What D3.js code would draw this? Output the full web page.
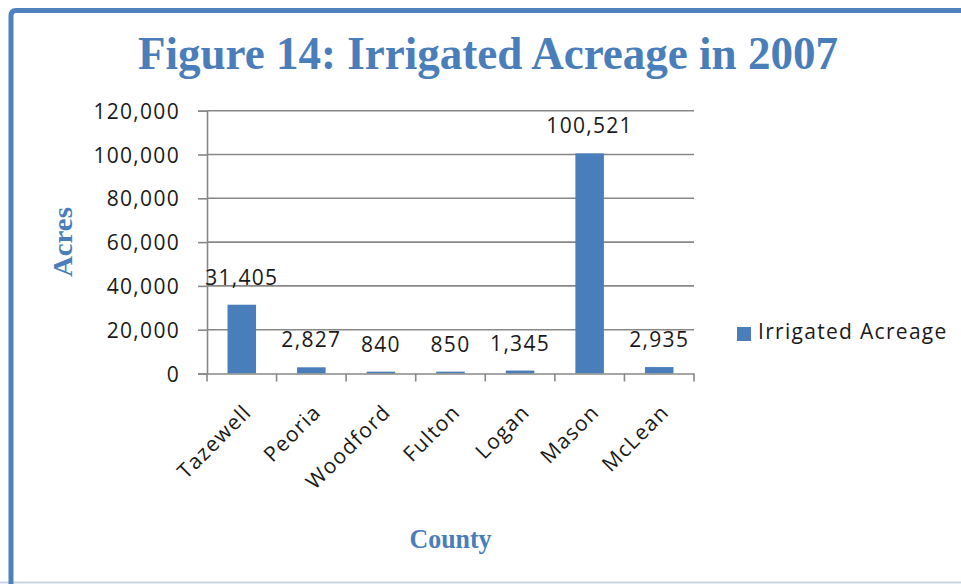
<!DOCTYPE html>
<html>
<head>
<meta charset="utf-8">
<script src="https://cdn.jsdelivr.net/npm/d3@7"></script>
<style>
  html, body { margin: 0; padding: 0; background: #fff; }
  svg { display: block; }
</style>
</head>
<body>
<script>
const counties = ["Tazewell", "Peoria", "Woodford", "Fulton", "Logan", "Mason", "McLean"];
const irrigatedAcreage = [31405, 2827, 840, 850, 1345, 100521, 2935];
const yTicks = [0, 20000, 40000, 60000, 80000, 100000, 120000];
const seriesName = "Irrigated Acreage";
const titleText = "Figure 14: Irrigated Acreage in 2007";
const xTitle = "County";
const yTitle = "Acres";

const W = 961, H = 584;
const blue = "#4a7ebb";
const barColor = "#4a7ebb";
const gridColor = "#888888";
const sansFont = "'Open Sans', sans-serif";
const serifFont = "'Liberation Serif', 'DejaVu Serif', serif";

const svg = d3.select("body").append("svg").attr("width", W).attr("height", H);

// frame
svg.append("rect").attr("x", 0).attr("y", 0).attr("width", W).attr("height", H).attr("fill", "#fff");
svg.append("line").attr("x1", 0).attr("x2", W).attr("y1", 582.5).attr("y2", 582.5)
  .attr("stroke", "#c9d5e2").attr("stroke-width", 2);
svg.append("path")
  .attr("d", `M11,${H + 5} L11,16 Q11,10.5 16,10.5 L${W + 5},10.5`)
  .attr("fill", "none").attr("stroke", "#4f81bd").attr("stroke-width", 5);

const plot = { left: 207, right: 694, top: 110.7, bottom: 373.5 };

const x = d3.scaleBand().domain(counties).range([plot.left, plot.right])
  .paddingInner(0.59).paddingOuter(0.295);
const xGrid = d3.scaleBand().domain(counties).range([plot.left, plot.right]).padding(0);
const y = d3.scaleLinear().domain([0, 120000]).range([plot.bottom, plot.top]);

// gridlines
svg.append("g").selectAll("line").data(yTicks.filter(d => d > 0)).join("line")
  .attr("x1", plot.left).attr("x2", plot.right)
  .attr("y1", d => y(d)).attr("y2", d => y(d))
  .attr("stroke", gridColor).attr("stroke-width", 1.6);

// y axis
const yAxis = svg.append("g").attr("transform", `translate(${plot.left},0)`)
  .call(d3.axisLeft(y).tickValues(yTicks).tickFormat(d3.format(",")).tickSize(9).tickPadding(18));
yAxis.select(".domain").attr("stroke", gridColor).attr("stroke-width", 1.6);
yAxis.selectAll(".tick line").attr("stroke", gridColor).attr("stroke-width", 1.6);
yAxis.selectAll(".tick text").attr("font-family", sansFont).attr("font-size", 21)
  .attr("letter-spacing", "1.3px").attr("fill", "#1a1a1a").attr("dy", "0.36em");

// bars
svg.append("g").selectAll("rect").data(counties).join("rect")
  .attr("x", d => x(d)).attr("width", x.bandwidth())
  .attr("y", (d, i) => y(irrigatedAcreage[i]))
  .attr("height", (d, i) => y(0) - y(irrigatedAcreage[i]))
  .attr("fill", barColor);

// x axis
const xAxis = svg.append("g").attr("transform", `translate(0,${plot.bottom})`)
  .call(d3.axisBottom(xGrid).tickSize(0).tickFormat(""));
xAxis.select(".domain").attr("stroke", gridColor).attr("stroke-width", 1.6);
xAxis.selectAll(".tick").remove();
const boundaries = counties.map(d => xGrid(d)).concat([plot.right]);
svg.append("g").selectAll("line").data(boundaries).join("line")
  .attr("x1", d => d).attr("x2", d => d)
  .attr("y1", plot.bottom).attr("y2", plot.bottom + 8)
  .attr("stroke", gridColor).attr("stroke-width", 1.6);

// category labels
svg.append("g").selectAll("text").data(counties).join("text")
  .attr("transform", d => `translate(${xGrid(d) + xGrid.bandwidth() / 2 + 11},${plot.bottom + 40}) rotate(-45)`)
  .attr("text-anchor", "end")
  .attr("font-family", sansFont).attr("font-size", 21).attr("letter-spacing", "1.3px")
  .attr("fill", "#1a1a1a")
  .text(d => d);

// value labels
svg.append("g").selectAll("text").data(counties).join("text")
  .attr("x", d => x(d) + x.bandwidth() / 2)
  .attr("y", (d, i) => y(irrigatedAcreage[i]) - 20)
  .attr("text-anchor", "middle")
  .attr("font-family", sansFont).attr("font-size", 21).attr("letter-spacing", "1.3px")
  .attr("fill", "#1a1a1a")
  .text((d, i) => d3.format(",")(irrigatedAcreage[i]));

// legend
const legend = svg.append("g").attr("transform", "translate(737,327)");
legend.append("rect").attr("width", 14).attr("height", 14).attr("fill", barColor);
legend.append("text").attr("x", 21).attr("y", 12)
  .attr("font-family", sansFont).attr("font-size", 21).attr("letter-spacing", "1.3px")
  .attr("fill", "#1a1a1a").text(seriesName);

// title
svg.append("text").attr("x", 488).attr("y", 69)
  .attr("text-anchor", "middle")
  .attr("font-family", serifFont).attr("font-weight", "bold").attr("font-size", 46)
  .attr("fill", blue)
  .attr("textLength", 700).attr("lengthAdjust", "spacingAndGlyphs")
  .text(titleText);

// axis titles
svg.append("text").attr("x", (plot.left + plot.right) / 2).attr("y", 548)
  .attr("text-anchor", "middle")
  .attr("font-family", serifFont).attr("font-weight", "bold").attr("font-size", 27)
  .attr("fill", blue)
  .attr("textLength", 82).attr("lengthAdjust", "spacingAndGlyphs")
  .text(xTitle);

svg.append("text")
  .attr("transform", `translate(72,${(plot.top + plot.bottom) / 2}) rotate(-90)`)
  .attr("text-anchor", "middle")
  .attr("font-family", serifFont).attr("font-weight", "bold").attr("font-size", 28)
  .attr("fill", blue)
  .attr("textLength", 70).attr("lengthAdjust", "spacingAndGlyphs")
  .text(yTitle);
</script>
</body>
</html>
